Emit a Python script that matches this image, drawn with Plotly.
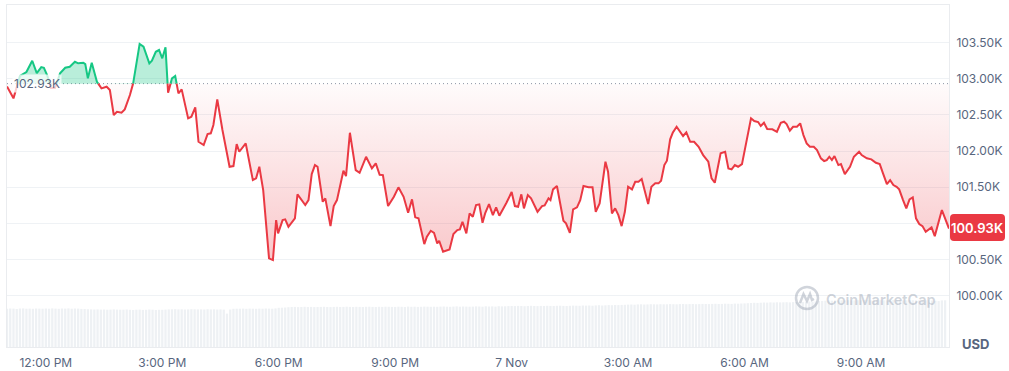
import plotly.graph_objects as go
from datetime import datetime, timedelta

# ---------------- data ----------------
BASE_PRICE = 102930   # price 24h ago (reference line)
LAST_PRICE = 100930

TIMES = [
    "11:00", "11:10", "11:20", "11:30", "11:39", "11:46", "11:53", "11:57", "12:02", "12:08",
    "12:14", "12:19", "12:22", "12:30", "12:37", "12:45", "12:50", "12:58", "13:01", "13:05",
    "13:11", "13:19", "13:26", "13:34", "13:39", "13:45", "13:50", "13:57", "14:02", "14:10",
    "14:15", "14:25", "14:31", "14:40", "14:44", "14:50", "14:55", "15:00", "15:05", "15:09",
    "15:15", "15:20", "15:25", "15:30", "15:40", "15:45", "15:51", "15:56", "16:04", "16:10",
    "16:15", "16:19", "16:25", "16:33", "16:44", "16:50", "16:55", "16:59", "17:09", "17:16",
    "17:20", "17:25", "17:30", "17:36", "17:45", "17:51", "17:56", "17:59", "18:06", "18:10",
    "18:15", "18:25", "18:29", "18:41", "18:46", "18:51", "18:56", "19:00", "19:08", "19:12",
    "19:20", "19:25", "19:30", "19:40", "19:44", "19:50", "19:59", "20:05", "20:15", "20:24",
    "20:30", "20:36", "20:41", "20:49", "20:58", "21:05", "21:13", "21:20", "21:26", "21:31",
    "21:36", "21:45", "21:49", "21:55", "22:00", "22:05", "22:08", "22:14", "22:24", "22:30",
    "22:36", "22:40", "22:44", "22:50", "22:55", "23:00", "23:05", "23:10", "23:15", "23:19",
    "23:25", "23:31", "23:36", "23:41", "23:47", "23:52", "00:00", "00:05", "00:10", "00:15",
    "00:19", "00:25", "00:30", "00:40", "00:47", "00:51", "00:57", "01:00", "01:04", "01:10",
    "01:20", "01:24", "01:30", "01:35", "01:41", "01:46", "01:51", "01:59", "02:05", "02:10",
    "02:16", "02:19", "02:25", "02:29", "02:35", "02:40", "02:45", "02:50", "02:55", "03:00",
    "03:06", "03:11", "03:16", "03:21", "03:28", "03:31", "03:36", "03:42", "03:47", "03:51",
    "03:56", "04:00", "04:05", "04:09", "04:15", "04:25", "04:30", "04:36", "04:42", "04:49",
    "04:56", "05:04", "05:09", "05:14", "05:23", "05:30", "05:35", "05:40", "05:45", "05:50",
    "05:56", "06:03", "06:10", "06:15", "06:21", "06:25", "06:30", "06:35", "06:43", "06:50",
    "06:56", "07:01", "07:05", "07:10", "07:15", "07:21", "07:26", "07:31", "07:36", "07:41",
    "07:47", "07:52", "07:58", "08:03", "08:07", "08:11", "08:15", "08:19", "08:25", "08:29",
    "08:35", "08:43", "08:49", "08:57", "09:01", "09:09", "09:16", "09:23", "09:29", "09:34",
    "09:40", "09:45", "09:50", "09:55", "09:59", "10:05", "10:10", "10:15", "10:20", "10:25",
    "10:30", "10:35", "10:40", "10:49", "10:54", "11:05", "11:16",
]

PRICES = [
    102890, 102727, 103035, 103090, 103246, 103076, 103159, 103149, 103049, 102869,
    102869, 102980, 103072, 103149, 103163, 103232, 103210, 103218, 103200, 103003,
    103218, 102956, 102865, 102887, 102842, 102497, 102542, 102528, 102575, 102773,
    102934, 103477, 103439, 103210, 103246, 103370, 103394, 103279, 103431, 102804,
    103003, 103035, 102796, 102851, 102451, 102473, 102603, 102128, 102082, 102234,
    102244, 102359, 102713, 102290, 101783, 101793, 102096, 101990, 102106, 101783,
    101599, 101623, 101783, 101461, 100519, 100495, 101047, 100864, 101047, 101057,
    100955, 101071, 101402, 101254, 101323, 101682, 101806, 101783, 101300, 101347,
    100964, 101241, 101323, 101728, 101655, 102252, 101737, 101700, 101921, 101761,
    101830, 101673, 101668, 101241, 101369, 101499, 101369, 101148, 101333, 101085,
    101071, 100716, 100817, 100900, 100872, 100726, 100762, 100610, 100643, 100854,
    100909, 100919, 101024, 100864, 101140, 101093, 101254, 101264, 101010, 101140,
    101268, 101116, 101223, 101107, 101195, 101286, 101434, 101241, 101231, 101402,
    101209, 101392, 101347, 101162, 101241, 101250, 101347, 101323, 101471, 101517,
    101038, 101002, 100872, 101195, 101223, 101323, 101517, 101499, 101499, 101162,
    101278, 101461, 101852, 101714, 101140, 101209, 101116, 100964, 101162, 101507,
    101471, 101576, 101576, 101613, 101369, 101268, 101507, 101554, 101554, 101590,
    101806, 101866, 102161, 102252, 102335, 102207, 102258, 102128, 102128, 102059,
    101944, 101852, 101623, 101562, 101968, 101990, 101761, 101747, 101806, 101783,
    101820, 102151, 102451, 102414, 102400, 102345, 102390, 102303, 102299, 102266,
    102390, 102404, 102372, 102280, 102335, 102335, 102382, 102220, 102106, 102059,
    102059, 102013, 101899, 101862, 101875, 101921, 101875, 101931, 101806, 101820,
    101682, 101783, 101921, 101990, 101944, 101899, 101885, 101838, 101820, 101692,
    101544, 101599, 101530, 101507, 101471, 101323, 101209, 101333, 101361, 101071,
    100992, 100964, 100886, 100947, 100826, 101185, 100930,
]

# 5-minute volume bars (billions USD), hourly rows from 11:00
VOLUME_START = "2025-11-06 11:00"
VOLUME_B = [
    38.2, 38.5, 38.4, 38.0, 38.5, 38.6, 38.3, 38.4, 38.2, 38.5, 38.4, 38.3,
    38.5, 38.3, 38.6, 38.4, 38.2, 38.5, 38.4, 38.6, 38.3, 38.5, 38.4, 38.1,
    38.0, 37.8, 37.6, 37.5, 37.6, 37.4, 37.5, 37.3, 37.4, 37.6, 37.4, 37.3,
    37.3, 37.5, 37.2, 37.0, 37.3, 37.4, 37.1, 37.2, 37.5, 37.3, 37.0, 37.2,
    37.2, 37.4, 37.6, 37.7, 37.8, 37.6, 37.7, 37.5, 37.6, 37.8, 37.7, 37.6,
    37.6, 37.5, 37.8, 37.6, 37.7, 37.5, 37.6, 37.4, 33.4, 37.5, 38.2, 38.3,
    38.3, 38.4, 38.2, 38.4, 38.3, 38.2, 38.4, 38.3, 38.5, 38.4, 38.3, 38.6,
    39.2, 39.3, 39.5, 39.8, 40.0, 40.1, 39.9, 40.0, 40.2, 40.0, 40.1, 39.9,
    40.0, 40.1, 40.2, 40.0, 39.9, 40.1, 40.2, 40.0, 40.1, 40.3, 40.1, 40.0,
    40.2, 40.1, 40.0, 40.2, 40.3, 40.1, 40.0, 40.2, 40.1, 40.3, 40.2, 40.1,
    40.1, 40.3, 40.2, 40.0, 40.4, 40.2, 40.3, 40.1, 40.2, 40.4, 40.3, 40.2,
    40.3, 40.2, 40.4, 40.5, 40.3, 40.2, 40.4, 40.6, 40.3, 40.5, 40.4, 40.3,
    40.4, 40.6, 40.5, 40.3, 40.7, 40.5, 40.6, 40.4, 40.8, 40.6, 40.7, 40.9,
    41.0, 40.9, 41.1, 41.0, 40.8, 41.0, 41.2, 41.0, 40.9, 41.1, 41.0, 41.2,
    41.1, 41.0, 41.2, 41.3, 41.1, 41.0, 41.2, 41.4, 41.3, 41.2, 41.5, 41.4,
    41.5, 41.3, 41.6, 41.8, 41.5, 41.7, 41.9, 41.8, 42.0, 41.9, 42.1, 42.2,
    42.4, 42.5, 42.3, 42.6, 42.7, 42.5, 42.6, 42.8, 42.7, 42.6, 42.8, 42.7,
    42.7, 42.9, 42.8, 42.7, 42.9, 43.0, 42.8, 42.9, 43.0, 42.8, 42.9, 43.1,
    43.0, 42.9, 43.1, 43.2, 43.0, 43.1, 43.3, 43.2, 43.1, 43.4, 43.3, 43.5,
    43.6, 43.8, 44.0, 44.2, 44.1, 44.3, 44.5, 44.4, 44.6, 44.5, 44.7, 44.6,
    44.7, 44.8, 44.6, 44.9, 45.0, 44.8, 45.1, 45.3, 45.5, 45.4, 45.7, 45.9,
    46.1, 46.3, 46.5, 46.4, 46.6, 46.5, 46.7, 46.6, 46.8, 46.7, 46.6, 46.8,
    46.7, 46.9, 46.8, 46.6, 46.7, 46.9, 46.8, 46.7, 46.6, 46.8, 46.9, 46.7,
    46.8, 46.6, 46.7, 46.9, 46.8, 46.7, 46.6, 46.8, 46.7, 46.9, 46.5, 46.2,
    45.9, 46.6, 46.7,
]

Y_TICKS = [100000, 100500, 101000, 101500, 102000, 102500, 103000, 103500]
# 101.00K is hidden behind the current-price badge in the reference
Y_TICK_TEXT = ["100.00K", "100.50K", "", "101.50K", "102.00K", "102.50K", "103.00K", "103.50K"]
X_TICKS = ["2025-11-06 12:00", "2025-11-06 15:00", "2025-11-06 18:00", "2025-11-06 21:00",
           "2025-11-07 00:00", "2025-11-07 03:00", "2025-11-07 06:00", "2025-11-07 09:00"]
X_TICK_TEXT = ["12:00 PM", "3:00 PM", "6:00 PM", "9:00 PM", "7 Nov", "3:00 AM", "6:00 AM", "9:00 AM"]

# ---------------- build ----------------
GREEN = "#16c784"
RED = "#ea3943"
TXT = "#58667e"
GRID = "#eff2f5"

day0 = datetime(2025, 11, 6)
dts = []
day = 0
prev = None
for s in TIMES:
    h, m = map(int, s.split(":"))
    cur = h * 60 + m
    if prev is not None and cur < prev:
        day += 1
    prev = cur
    dts.append(day0 + timedelta(days=day, hours=h, minutes=m))

B = BASE_PRICE
xs, ys = [dts[0]], [PRICES[0]]
for i in range(1, len(PRICES)):
    p0, p1 = PRICES[i - 1], PRICES[i]
    if (p0 - B) * (p1 - B) < 0:
        f = (B - p0) / (p1 - p0)
        xs.append(dts[i - 1] + (dts[i] - dts[i - 1]) * f)
        ys.append(B)
    xs.append(dts[i])
    ys.append(p1)

upper = [max(v, B) for v in ys]
lower = [min(v, B) for v in ys]
green_line = [v if v >= B else None for v in ys]
red_line = [v if v <= B else None for v in ys]

vstart = datetime.strptime(VOLUME_START, "%Y-%m-%d %H:%M")
vx = [vstart + timedelta(minutes=5 * i) for i in range(len(VOLUME_B))]

fig = go.Figure()

fig.add_trace(go.Bar(x=vx, y=VOLUME_B, yaxis="y2", marker=dict(color="#eef1f4", line=dict(width=0)),
                     hoverinfo="skip"))

fig.add_trace(go.Scatter(x=xs, y=[B] * len(xs), mode="lines", line=dict(width=0), hoverinfo="skip"))
fig.add_trace(go.Scatter(x=xs, y=upper, mode="lines", line=dict(width=0), fill="tonexty",
                         fillcolor="rgba(22,199,132,0.30)", hoverinfo="skip"))
fig.add_trace(go.Scatter(x=xs, y=[B] * len(xs), mode="lines", line=dict(width=0), hoverinfo="skip"))
fig.add_trace(go.Scatter(
    x=xs, y=lower, mode="lines", line=dict(width=0), fill="tonexty",
    fillgradient=dict(type="vertical", start=100300, stop=B,
                      colorscale=[[0, "rgba(234,57,67,0.30)"], [1, "rgba(234,57,67,0.02)"]]),
    hoverinfo="skip"))
fig.add_trace(go.Scatter(x=xs, y=green_line, mode="lines", line=dict(color=GREEN, width=2),
                         hoverinfo="skip"))
fig.add_trace(go.Scatter(x=xs, y=red_line, mode="lines", line=dict(color=RED, width=2),
                         hoverinfo="skip"))

# geometry helpers (pixel -> paper)
L, R, T, BOT = 7, 949, 5, 347
W, H = R - L, BOT - T


def px(x):
    return (x - L) / W


def py(y):
    return (BOT - y) / H


shapes = [
    dict(type="line", xref="paper", yref="y", x0=0, x1=1, y0=B, y1=B, layer="below",
         line=dict(color="#8c95a5", width=1, dash="1px,3px")),
]

# rounded red price box
x0, x1, y0, y1 = px(950), px(1005), py(241), py(214)
rx, ry = 4 / W, 4 / H
path = (f"M {x0+rx},{y0} L {x1-rx},{y0} Q {x1},{y0} {x1},{y0+ry} L {x1},{y1-ry} Q {x1},{y1} {x1-rx},{y1} "
        f"L {x0+rx},{y1} Q {x0},{y1} {x0},{y1-ry} L {x0},{y0+ry} Q {x0},{y0} {x0+rx},{y0} Z")
shapes.append(dict(type="path", xref="paper", yref="paper", path=path, fillcolor=RED,
                   line=dict(width=0), layer="above"))

# watermark logo
WM = "rgba(150,160,176,0.45)"
shapes.append(dict(type="circle", xref="paper", yref="paper", x0=px(796), x1=px(818), y0=py(309), y1=py(287),
                   line=dict(color=WM, width=2.5)))
cx, cy = 807, 298
pts = [(-7, 5), (-3.5, -4), (0, 3), (3, -4), (5, 2), (7, 1)]
wpath = "M " + " L ".join(f"{px(cx+a)},{py(cy+b)}" for a, b in pts)
shapes.append(dict(type="path", xref="paper", yref="paper", path=wpath, line=dict(color=WM, width=2.5)))

annotations = [
    dict(xref="paper", yref="y", x=px(12), y=B, xanchor="left", yanchor="middle", text="102.93K",
         showarrow=False, font=dict(size=12, color=TXT), bgcolor="rgba(255,255,255,0.75)", borderpad=1),
    dict(xref="paper", yref="paper", x=px(977.5), y=py(227.5), xanchor="center", yanchor="middle",
         text="100.93K", showarrow=False, font=dict(size=13, color="white", weight=600)),
    dict(xref="paper", yref="paper", x=px(975.5), y=py(344), xanchor="center", yanchor="middle",
         text="USD", showarrow=False, font=dict(size=13, color=TXT, weight=700)),
    dict(xref="paper", yref="paper", x=px(824), y=py(299), xanchor="left", yanchor="middle",
         text="CoinMarketCap", showarrow=False, font=dict(size=14.5, color=WM, weight=600)),
]

fig.update_layout(
    width=1009, height=371,
    margin=dict(l=L, r=1009 - R, t=T, b=371 - BOT),
    paper_bgcolor="white", plot_bgcolor="white",
    showlegend=False, bargap=0.3,
    font=dict(family="Inter, sans-serif", size=12, color=TXT),
    xaxis=dict(type="date", range=["2025-11-06 11:00", "2025-11-07 11:16"], automargin=False,
               tickvals=X_TICKS, ticktext=X_TICK_TEXT, showgrid=False, zeroline=False,
               showline=True, mirror=True, linecolor="#eaecef", linewidth=1,
               ticks="outside", ticklen=5, tickcolor="rgba(0,0,0,0)",
               tickfont=dict(size=12, color=TXT)),
    yaxis=dict(side="right", range=[99296, 104015], tickvals=Y_TICKS, ticktext=Y_TICK_TEXT,
               automargin=False,
               showgrid=True, gridcolor=GRID, zeroline=False,
               showline=True, mirror=True, linecolor="#eaecef", linewidth=1,
               ticks="outside", ticklen=4, tickcolor="rgba(0,0,0,0)",
               tickfont=dict(size=12, color=TXT)),
    yaxis2=dict(overlaying="y", range=[0, 342], visible=False, showgrid=False),
    shapes=shapes,
    annotations=annotations,
    hovermode=False,
)

fig.write_html("out.html")
